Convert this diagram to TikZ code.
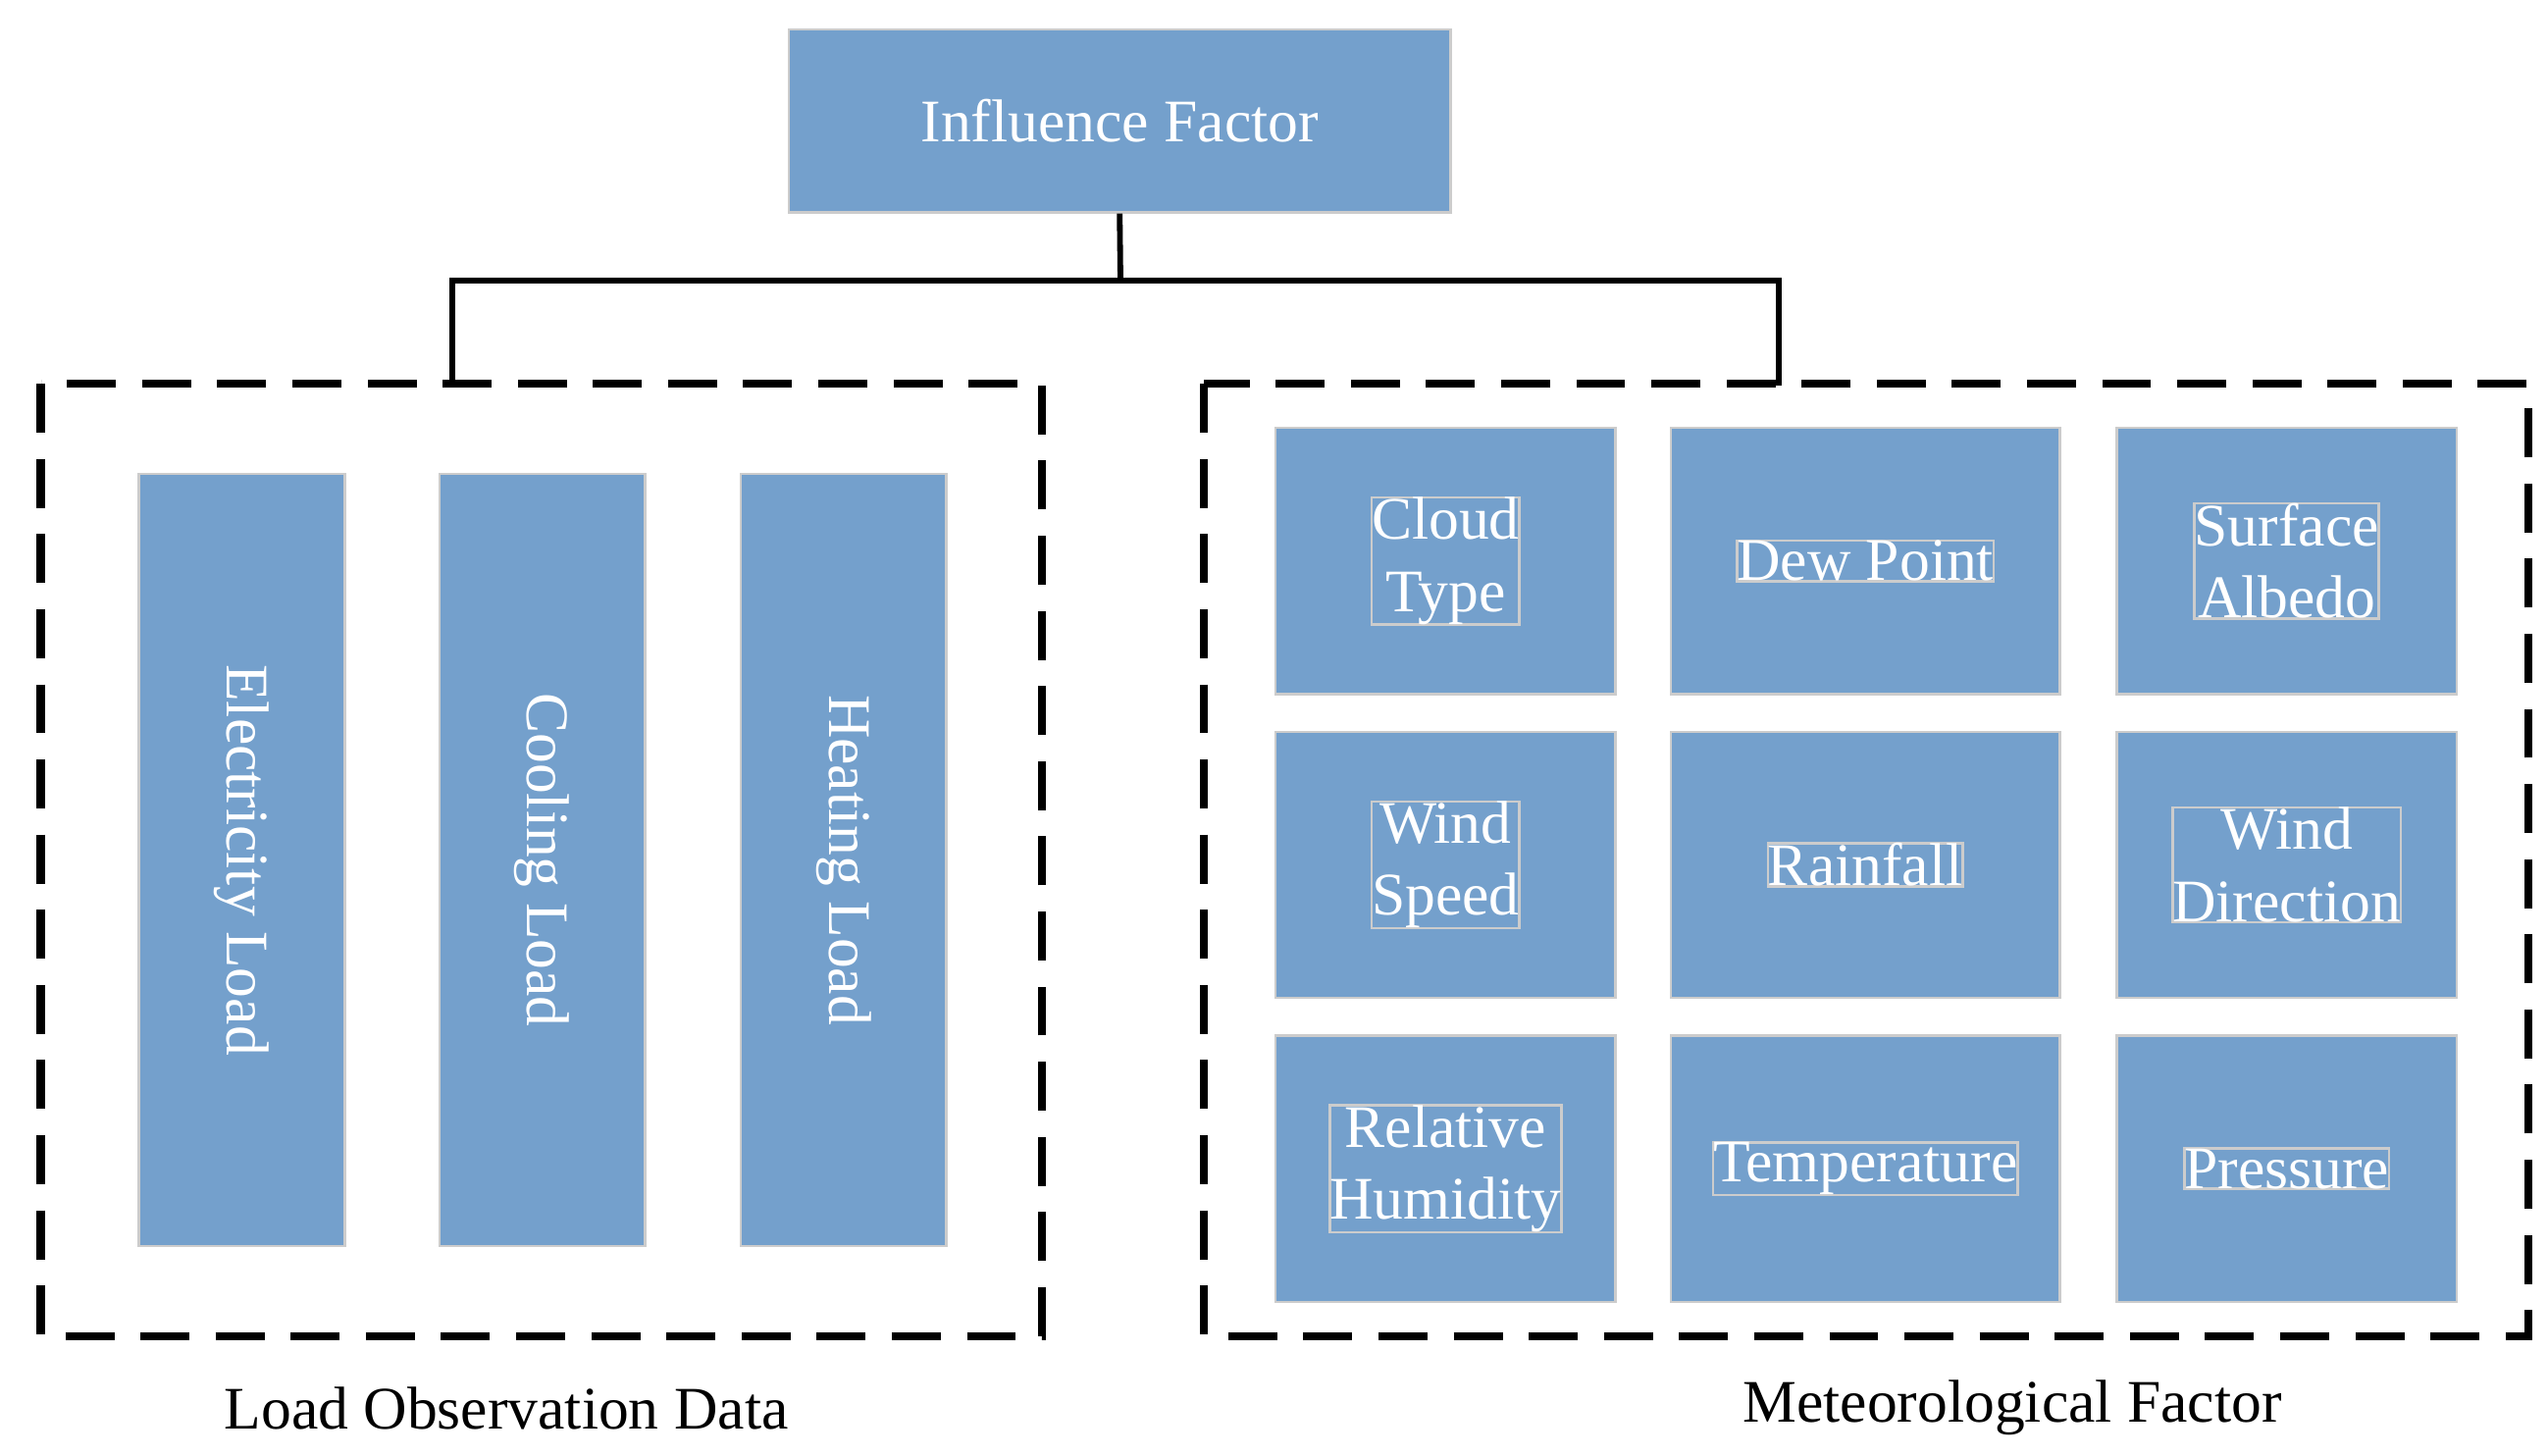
\documentclass[tikz,border=0pt]{standalone}
\usepackage{fontspec}
\setmainfont{Liberation Serif}
\begin{document}
\begin{tikzpicture}[x=1pt,y=-1pt,
 box/.style={draw=gray!40,line width=1.5pt,fill={rgb,255:red,116;green,160;blue,204},text=white,font=\fontsize{37}{44}\selectfont,align=center,inner sep=0pt},
 dbox/.style={draw=black,line width=5pt,dash pattern=on 30pt off 16pt},
 conn/.style={draw=black,line width=3.5pt},
 lab/.style={font=\fontsize{37}{44}\selectfont}]
\useasboundingbox (0,0) rectangle (1560,891);
\fill[white] (0,0) rectangle (1560,891);
\node[box,minimum width=405,minimum height=112] (inf) at (685.5,74) {Influence Factor};
\draw[dbox] (25,235) rectangle (638,818);
\draw[dbox] (737,235) rectangle (1548,818);
\coordinate (j) at (686,172);
\coordinate (l) at (277,236);
\coordinate (r) at (1089,236);
\draw[conn] (inf.south) -- (j);
\draw[conn] (l) |- (j) -| (r);
\foreach \n/\x/\t in {e/148/Electricity Load,c/332/Cooling Load,h/516.5/Heating Load}
  \node[box,minimum width=126,minimum height=473] (\n) at (\x,526.5) {};
\foreach \n/\x/\t in {e/148/Electricity Load,c/332/Cooling Load,h/516.5/Heating Load}
  \node[text=white,font=\fontsize{37}{44}\selectfont,rotate=-90] (\n t) at (\n) {\t};
\foreach \r/\y in {1/343.5,2/529.5,3/715.5}{
 \node[box,minimum width=208,minimum height=163] (a\r) at (885,\y) {};
 \node[box,minimum width=238,minimum height=163] (b\r) at (1142,\y) {};
 \node[box,minimum width=208,minimum height=163] (c\r) at (1400,\y) {};}
\node[box] at (a1) {Cloud\\Type};
\node[box] at (b1) {Dew Point};
\node[box] at (c1) {Surface\\Albedo};
\node[box] at (a2) {Wind\\Speed};
\node[box] at (b2) {Rainfall};
\node[box] at (c2) {Wind\\Direction};
\node[box] at (a3) {Relative\\Humidity};
\node[box] at (b3) {Temperature};
\node[box] at (c3) {Pressure};
\node[lab] (ll) at (310,862) {Load Observation Data};
\node[lab] (rl) at (1232,862) {Meteorological Factor};
\end{tikzpicture}
\end{document}
